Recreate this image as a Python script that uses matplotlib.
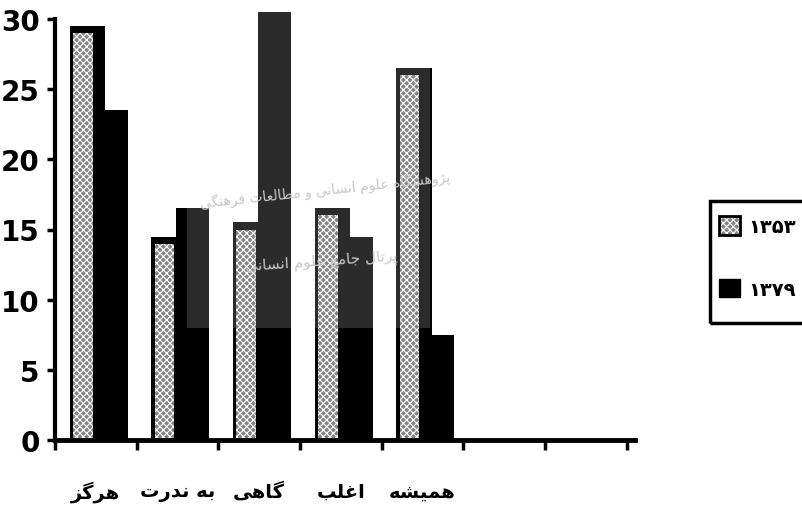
import matplotlib
matplotlib.use("Agg")
import matplotlib.pyplot as plt
from matplotlib.patches import Patch, Rectangle

# data
categories = ["هرگز", "به ندرت", "گاهی", "اغلب", "همیشه"]
series_names = ["۱۳۵۳", "۱۳۷۹"]
values_1353 = [29, 14, 15, 16, 26]
values_1379 = [23, 16, 30, 14, 7]
n_slots = 7
yticks = [0, 5, 10, 15, 20, 25, 30]
watermark_lines = ["پژوهشگاه علوم انسانی و مطالعات فرهنگی", "پرتال جامع علوم انسانی"]

# matplotlib does no arabic shaping, so pick presentation forms by hand
FORMS = {
    'ا': ('\uFE8D', '\uFE8E', None, None),
    'ب': ('\uFE8F', '\uFE90', '\uFE91', '\uFE92'),
    'پ': ('\uFB56', '\uFB57', '\uFB58', '\uFB59'),
    'ت': ('\uFE95', '\uFE96', '\uFE97', '\uFE98'),
    'ج': ('\uFE9D', '\uFE9E', '\uFE9F', '\uFEA0'),
    'د': ('\uFEA9', '\uFEAA', None, None),
    'ر': ('\uFEAD', '\uFEAE', None, None),
    'ز': ('\uFEAF', '\uFEB0', None, None),
    'ژ': ('\uFB8A', '\uFB8B', None, None),
    'س': ('\uFEB1', '\uFEB2', '\uFEB3', '\uFEB4'),
    'ش': ('\uFEB5', '\uFEB6', '\uFEB7', '\uFEB8'),
    'ط': ('\uFEC1', '\uFEC2', '\uFEC3', '\uFEC4'),
    'ع': ('\uFEC9', '\uFECA', '\uFECB', '\uFECC'),
    'غ': ('\uFECD', '\uFECE', '\uFECF', '\uFED0'),
    'ف': ('\uFED1', '\uFED2', '\uFED3', '\uFED4'),
    'گ': ('\uFB92', '\uFB93', '\uFB94', '\uFB95'),
    'ل': ('\uFEDD', '\uFEDE', '\uFEDF', '\uFEE0'),
    'م': ('\uFEE1', '\uFEE2', '\uFEE3', '\uFEE4'),
    'ن': ('\uFEE5', '\uFEE6', '\uFEE7', '\uFEE8'),
    'ه': ('\uFEE9', '\uFEEA', '\uFEEB', '\uFEEC'),
    'و': ('\uFEED', '\uFEEE', None, None),
    'ی': ('\uFBFC', '\uFBFD', '\uFBFE', '\uFBFF'),
}


def shape(text):
    out = []
    for i, ch in enumerate(text):
        if ch not in FORMS:
            out.append(ch)
            continue
        prev = text[i - 1] if i > 0 else ''
        nxt = text[i + 1] if i + 1 < len(text) else ''
        iso, fin, ini, med = FORMS[ch]
        join_prev = prev in FORMS and FORMS[prev][2] is not None
        join_next = ini is not None and nxt in FORMS
        if join_prev and join_next:
            out.append(med)
        elif join_prev:
            out.append(fin)
        elif join_next:
            out.append(ini)
        else:
            out.append(iso)
    return ''.join(reversed(out))


plt.rcParams['font.family'] = ['DejaVu Sans']
plt.rcParams['hatch.linewidth'] = 0.8

W, H = 802, 506
fig = plt.figure(figsize=(W / 100, H / 100), dpi=100)
ax = fig.add_axes([55 / W, (H - 441) / H, (635 - 55) / W, (441 - 20) / H])

# faint watermark text (behind everything)
fig.text(325 / W, 1 - 190 / H, shape(watermark_lines[0]), ha='center', va='center',
         fontsize=10, color='#c8c8c8', rotation=6, zorder=0)
fig.text(322 / W, 1 - 262 / H, shape(watermark_lines[1]), ha='center', va='center',
         fontsize=11, color='#c8c8c8', rotation=4, zorder=0)

pos = list(range(len(categories)))
top = 0.5  # fake 3d depth on top of each bar
hatch_face = dict(facecolor='#858585', edgecolor='white', hatch='xxxxx', linewidth=0)

# 1353: black body with hatched front face, 1379: solid black
ax.bar([p + 0.18 for p in pos], [v + top for v in values_1353], width=0.43,
       align='edge', color='black', linewidth=0, clip_on=False)
ax.bar([p + 0.48 for p in pos], [v + top for v in values_1379], width=0.41,
       align='edge', color='black', linewidth=0, clip_on=False)

# the scan has a watermark that lightens the black inside a box
clip = Rectangle((187 / W, 1 - 329 / H), (430 - 187) / W, 329 / H, transform=fig.transFigure)
for vals, x0, w in [(values_1353, 0.18, 0.43), (values_1379, 0.48, 0.41)]:
    gb = ax.bar([p + x0 for p in pos], [v + top for v in vals], width=w, align='edge',
                color='#2b2b2b', linewidth=0)
    for r in gb:
        r.set_clip_path(clip)

ax.bar([p + 0.22 for p in pos], values_1353, width=0.24, align='edge',
       clip_on=False, **hatch_face)

ax.set_xlim(0, n_slots + 0.1)
ax.set_ylim(0, 30)
for s in ['top', 'right']:
    ax.spines[s].set_visible(False)
ax.spines['left'].set_linewidth(3)
ax.spines['bottom'].set_linewidth(3.5)
ax.set_yticks(yticks)
ax.set_yticklabels([str(t) for t in yticks], fontsize=20, fontweight='bold')
ax.set_xticks(range(n_slots + 1))
ax.set_xticklabels([])
ax.tick_params(axis='y', length=6, width=2.5, pad=5)
ax.tick_params(axis='x', length=7, width=2.5)

for p, c in zip(pos, categories):
    ax.text(p + 0.5, -3.65, shape(c), ha='center', va='center', fontsize=14,
            fontweight='bold', clip_on=False)

# legend: entries without frame, box drawn separately (it runs off the right edge)
handles = [(Patch(**hatch_face), Patch(facecolor='none', edgecolor='black', linewidth=2)),
           Patch(facecolor='black', edgecolor='black')]
fig.legend(handles, series_names, loc='upper left', frameon=False,
           bbox_to_anchor=(719 / W, 1 - 217 / H), prop={'size': 14, 'weight': 'bold'},
           handlelength=1.1, handleheight=1.1, handletextpad=0.4,
           labelspacing=2.2, borderpad=0, borderaxespad=0)
fig.add_artist(Rectangle((710 / W, 1 - 324 / H), 110 / W, 122 / H, transform=fig.transFigure,
                         fill=False, edgecolor='black', linewidth=2.5))

fig.savefig('out.png', dpi=100)
